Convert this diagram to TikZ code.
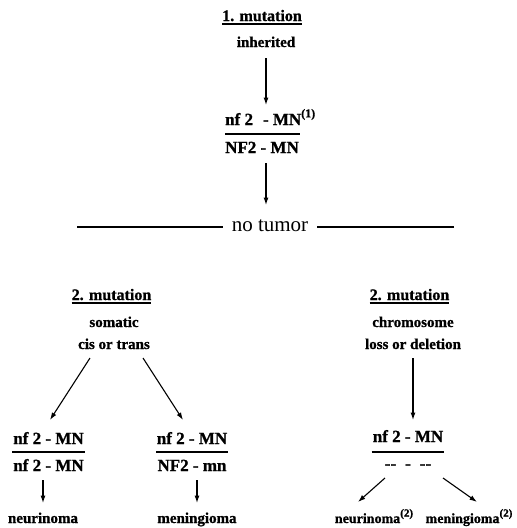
\documentclass[tikz,border=0pt]{standalone}
\usepackage{fontspec}
\setmainfont{Liberation Serif}[BoldFeatures={FakeBold=1}]
\usetikzlibrary{arrows.meta,calc}
\newcommand\mysup[1]{\raisebox{0.45em}{\fontsize{12}{12}\selectfont(#1)}}
\newcommand\mysupsm[1]{\raisebox{0.45em}{\fontsize{11}{11}\selectfont(#1)}}
\begin{document}
\begin{tikzpicture}[x=1pt,y=-1pt,
  lab/.style={font=\bfseries\fontsize{15}{18}\selectfont, anchor=base, inner sep=0pt},
  labsm/.style={font=\bfseries\fontsize{14}{17}\selectfont, anchor=base, inner sep=0pt},
  head/.style={font=\bfseries\fontsize{16}{19}\selectfont, anchor=base, inner sep=0pt},
  geno/.style={font=\bfseries\fontsize{17}{20}\selectfont, anchor=base, inner sep=0pt},
  arr/.style={-{Latex[length=7.5pt,width=5pt]}, line width=1.1pt},
  bar/.style={line width=1.5pt},
  ]
\useasboundingbox (0,0) rectangle (517,528);

% top
\node[head] (m1) at (262,21) {1. mutation};
\draw[bar] ($(m1.base west)+(0,3)$) -- ($(m1.base east)+(0,3)$);
\node[lab] (inh) at (266,47) {inherited};
\node[geno, anchor=base west] (g1a) at (225,125) {nf 2\,\, - MN\mysup{1}};
\node[geno, anchor=base west] (g1b) at (225,153) {NF2 - MN};
\draw[bar] ($(g1b.base west)+(0,-19)$) -- ($(g1b.base east)+(1,-19)$);
\draw[arr] ($(inh.base)+(0,11)$) -- ($(inh.base |- g1a.base)+(0,-20)$);

\node[font=\fontsize{21}{25}\selectfont, anchor=base, inner xsep=9pt, inner ysep=0pt] (nt) at (270,231.5) {no tumor};
\coordinate (hl) at (77,227);
\coordinate (hr) at (454,227);
\draw[arr] ($(inh.base |- g1b.base)+(0,10)$) -- ($(inh.base |- nt.base)+(0,-26.5)$);
\draw[bar] (hl) -- (hl -| nt.west);
\draw[bar] (hr) -- (hr -| nt.east);

% left branch
\node[head] (m2l) at (111.5,300) {2. mutation};
\draw[bar] ($(m2l.base west)+(0,3)$) -- ($(m2l.base east)+(0,3)$);
\node[lab] (som) at (114,327) {somatic};
\node[lab] (cis) at (114,349) {cis or trans};

\node[geno] (gl1) at (48.5,444) {nf 2 - MN};
\node[geno] (gl2) at (48.5,471) {nf 2 - MN};
\draw[bar] ($(gl2.base west)+(-1,-19)$) -- ($(gl2.base east)+(1,-19)$);
\node[geno] (gr1) at (192,444) {nf 2 - MN};
\node[geno] (gr2) at (192,471) {NF2 - mn};
\draw[bar] ($(gr2.base west)+(-1,-19)$) -- ($(gr2.base east)+(1,-19)$);

\draw[arr] ($(cis.base)+(-24,9)$) -- ($(gl1.base)+(1.5,-24)$);
\draw[arr] ($(cis.base)+(29,9)$) -- ($(gr1.base)+(-9,-24)$);

\node[lab] (neu) at (43,523) {neurinoma};
\node[lab] (men) at (197,523) {meningioma};
\draw[arr] ($(neu.base |- gl2.base)+(0,9)$) -- ($(neu.base)+(0,-20)$);
\draw[arr] ($(men.base |- gr2.base)+(0,9)$) -- ($(men.base)+(0,-20)$);

% right branch
\node[head] (m2r) at (409.5,300) {2. mutation};
\draw[bar] ($(m2r.base west)+(0,3)$) -- ($(m2r.base east)+(0,3)$);
\node[lab] (chr) at (413,327) {chromosome};
\node[lab] (los) at (413,349) {loss or deletion};
\node[geno] (g3) at (408,442) {nf 2 - MN};
\draw[bar] ($(g3.base west)+(-1,10)$) -- ($(g3.base east)+(1,10)$);
\node[geno] (dsh) at (408,469) {-{}-\hspace{9pt}-\hspace{9pt}-{}-};
\draw[arr] ($(los.base)+(0,9)$) -- ($(los.base |- g3.base)+(0,-22)$);

\node[labsm] (n2) at (374,523) {neurinoma\mysupsm{2}};
\node[labsm] (mg2) at (469,523) {meningioma\mysupsm{2}};
\draw[arr] ($(dsh.base)+(-23,9)$) -- ($(n2.base)+(-16,-21)$);
\draw[arr] ($(dsh.base)+(35,9)$) -- ($(mg2.base)+(8,-21)$);
\end{tikzpicture}
\end{document}
